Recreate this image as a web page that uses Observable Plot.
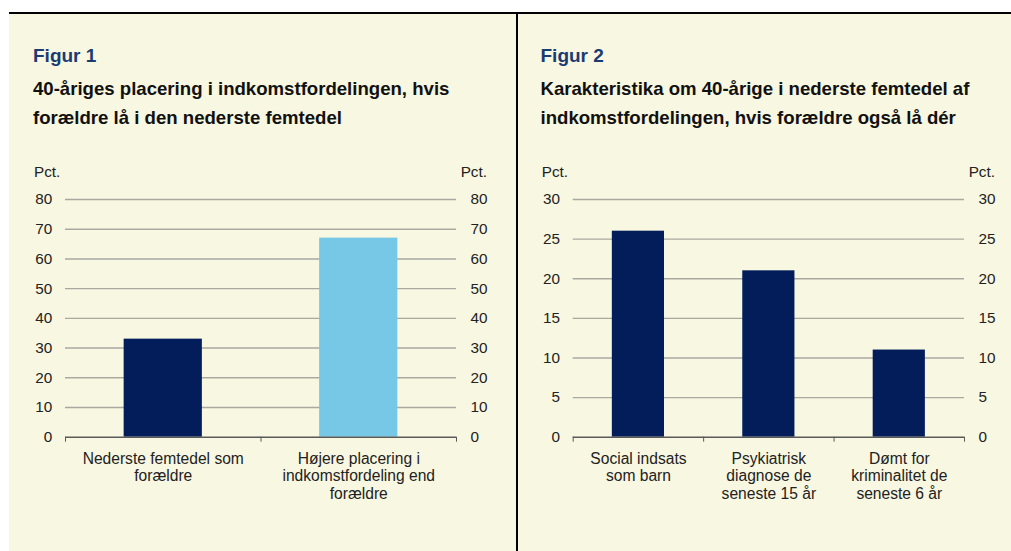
<!DOCTYPE html>
<html><head><meta charset="utf-8">
<script src="https://cdn.jsdelivr.net/npm/d3@7"></script>
<script src="https://cdn.jsdelivr.net/npm/@observablehq/plot@0.6"></script>
<style>
body{margin:0;background:#fff;}
#page{position:relative;width:1011px;height:551px;overflow:hidden;font-family:"Liberation Sans",Arial,sans-serif;}
.bg{position:absolute;left:9px;top:12px;right:0;bottom:0;background:#f8f7e1;border-top:2px solid #000;}
.vdiv{position:absolute;left:516px;top:12px;width:2px;bottom:0;background:#000;}
.fig{position:absolute;font-weight:bold;color:#1b3b73;font-size:19px;line-height:19px;white-space:nowrap;}
.sub{position:absolute;font-weight:bold;color:#111;font-size:18.6px;line-height:29px;white-space:nowrap;}
.pct{position:absolute;font-size:15.3px;line-height:15px;color:#222;width:50px;}
.plot{position:absolute;top:150px;}
</style></head>
<body>
<div id="page">
  <div class="bg"></div>
  <div class="vdiv"></div>
</div>
<script>
// ---- data ----
const figTitles = ["Figur 1", "Figur 2"];
const subTitles = [
  ["40-åriges placering i indkomstfordelingen, hvis", "forældre lå i den nederste femtedel"],
  ["Karakteristika om 40-årige i nederste femtedel af", "indkomstfordelingen, hvis forældre også lå dér"]
];
const unitLabel = "Pct.";

const cats1 = ["Nederste femtedel som forældre", "Højere placering i indkomstfordeling end forældre"];
const tickLabels1 = ["Nederste femtedel som\nforældre", "Højere placering i\nindkomstfordeling end\nforældre"];
const values1 = [33, 67];
const colors1 = ["#031d5a", "#76c8e6"];
const yTicks1 = [0, 10, 20, 30, 40, 50, 60, 70, 80];

const cats2 = ["Social indsats som barn", "Psykiatrisk diagnose de seneste 15 år", "Dømt for kriminalitet de seneste 6 år"];
const tickLabels2 = ["Social indsats\nsom barn", "Psykiatrisk\ndiagnose de\nseneste 15 år", "Dømt for\nkriminalitet de\nseneste 6 år"];
const values2 = [26, 21, 11];
const colors2 = ["#031d5a", "#031d5a", "#031d5a"];
const yTicks2 = [0, 5, 10, 15, 20, 25, 30];

// ---- layout ----
const page = document.getElementById("page");
function addDiv(cls, text, left, top, extra) {
  const d = document.createElement("div");
  d.className = cls;
  d.style.left = left + "px";
  d.style.top = top + "px";
  if (extra) Object.assign(d.style, extra);
  if (Array.isArray(text)) d.innerHTML = text.map(t => t.replace(/&/g,"&amp;")).join("<br>");
  else d.textContent = text;
  page.appendChild(d);
  return d;
}

const panels = [
  {left: 0, width: 516, mL: 65, mR: 60, cats: cats1, labels: tickLabels1, values: values1, colors: colors1, ticks: yTicks1, textX: 33, pctL: 34, pctR: 437},
  {left: 518, width: 493, mL: 54.7, mR: 47, cats: cats2, labels: tickLabels2, values: values2, colors: colors2, ticks: yTicks2, textX: 540.5, pctL: 541.7, pctR: 945}
];

panels.forEach((p, k) => {
  addDiv("fig", figTitles[k], p.textX, 46);
  addDiv("sub", subTitles[k], p.textX, 74);
  addDiv("pct", unitLabel, p.pctL, 164);
  addDiv("pct", unitLabel, p.pctR, 164, {textAlign: "right"});

  const n = p.cats.length;
  const data = p.cats.map((c, i) => ({cat: c, i, value: p.values[i], color: p.colors[i]}));
  const chart = Plot.plot({
    width: p.width,
    height: 401,
    marginLeft: p.mL,
    marginRight: p.mR,
    marginTop: 49,
    marginBottom: 114.3,
    x: {domain: [0, n], axis: null},
    y: {domain: [0, p.ticks[p.ticks.length - 1]], axis: null},
    color: {type: "identity"},
    style: {background: "transparent", fontFamily: "'Liberation Sans', Arial, sans-serif", fontSize: "15px", color: "#222", overflow: "visible"},
    marks: [
      Plot.gridY(p.ticks.slice(1), {stroke: "#a9a9a2", strokeOpacity: 1, strokeWidth: 1.4}),
      Plot.rect(data, {x1: d => d.i + 0.3, x2: d => d.i + 0.7, y1: 0, y2: "value", fill: "color"}),
      Plot.ruleY([0], {stroke: "#5a5a5a", strokeWidth: 1.4}),
      Plot.axisX(d3.range(n + 1), {tickSize: 5, tickFormat: () => "", stroke: "#5a5a5a", label: null}),
      Plot.axisX(d3.range(n).map(i => i + 0.5), {tickSize: 0, tickPadding: 14.3, tickFormat: v => p.labels[Math.floor(v)], fontSize: 15.6, lineHeight: 1.12, fill: "#222", label: null}),
      Plot.axisY(p.ticks, {anchor: "left", tickSize: 0, tickPadding: 13.3, fontSize: 15.3, fill: "#222", label: null}),
      Plot.axisY(p.ticks, {anchor: "right", tickSize: 0, tickPadding: 14, fontSize: 15.3, fill: "#222", label: null})
    ]
  });
  chart.classList.add("plot");
  chart.style.position = "absolute";
  chart.style.left = p.left + "px";
  chart.style.top = "150px";
  page.appendChild(chart);
});
</script>
</body></html>
